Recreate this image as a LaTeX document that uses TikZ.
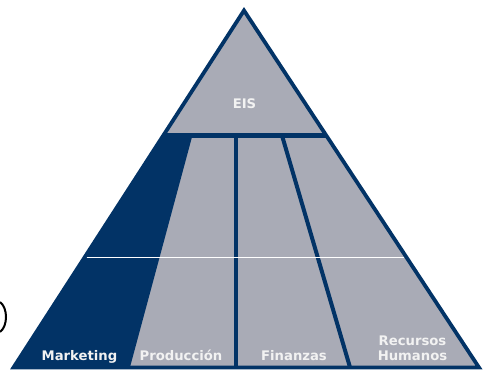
\documentclass[tikz,border=0pt]{standalone}
\usepackage{fontspec}
\newfontfamily\labfont{DejaVu Sans}
\definecolor{navy}{HTML}{023366}
\definecolor{pgray}{HTML}{A9ABB6}
\definecolor{labwhite}{HTML}{F2F2F2}
\tikzset{
  lab/.style={font=\labfont\bfseries\fontsize{13.2}{15}\selectfont, text=labwhite, inner sep=0pt, anchor=base},
  divider/.style={draw=navy, line width=4pt},
  outline/.style={draw=navy, line width=3.8pt, line join=miter},
}
\begin{document}
\begin{tikzpicture}[x=1pt,y=-1pt]
\useasboundingbox (0,0) rectangle (483,372);
% outer triangle corners
\coordinate (A) at (244,10.5);
\coordinate (L) at (13.5,367.5);
\coordinate (R) at (479,367.5);
% band and dividers
\coordinate (bandL) at (0,135.5);
\coordinate (bandR) at (483,135.5);
\coordinate (mkTop) at (192.4,135.5);
\coordinate (mkBot) at (129.5,369);
\coordinate (vTop) at (236,135.5);
\coordinate (vBot) at (236,369);
\coordinate (sTop) at (282,135.5);
\coordinate (sBot) at (350.5,369);
\coordinate (wL) at (0,257);
\coordinate (wR) at (483,257);
% fill
\fill[pgray] (A) -- (L) -- (R) -- cycle;
\begin{scope}
  \clip (A) -- (L) -- (R) -- cycle;
  \fill[navy] (bandL) -- (mkTop) -- (mkBot) -- (0,372) -- cycle;
  \draw[navy, line width=5pt] (bandL) -- (bandR);
  \draw[divider] (vTop) -- (vBot);
  \draw[divider] (sTop) -- (sBot);
  \draw[white, line width=1pt] (wL) -- (wR);
\end{scope}
\draw[outline] (A) -- (L) -- (R) -- cycle;
% labels
\node[lab] (eis) at (244.5,108) {EIS};
\node[lab] (mk) at (79.5,360) {Marketing};
\node[lab] (pr) at (181,360) {Producción};
\node[lab] (fi) at (294,360) {Finanzas};
\node[lab] (rh1) at (412.5,345) {Recursos};
\node[lab] (rh2) at (412.5,360.5) {Humanos};
% partial bracket at left edge
\coordinate (brT) at (0,302);
\coordinate (brB) at (0,332);
\draw[black, line width=2pt] (brT) .. controls (8,308) and (8,326) .. (brB);
\end{tikzpicture}
\end{document}
